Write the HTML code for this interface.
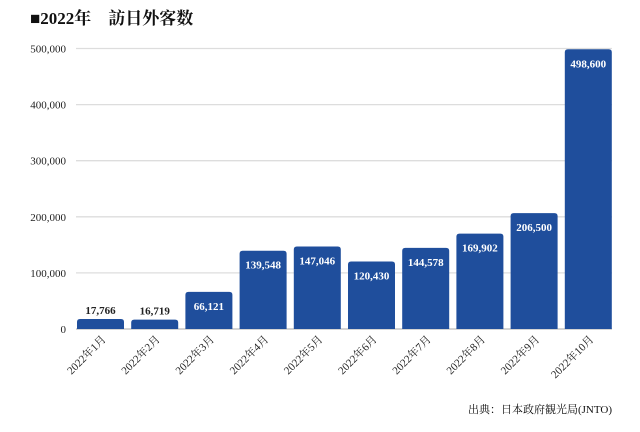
<!DOCTYPE html>
<html><head><meta charset="utf-8">
<style>
body{margin:0;background:#fff;}
svg text{font-family:"Liberation Serif","Noto Serif CJK SC",serif;}
</style></head>
<body>
<svg id="chart" width="640" height="427" viewBox="0 0 640 427" xmlns="http://www.w3.org/2000/svg">
<text x="30" y="24" font-size="17" font-weight="bold" fill="#111">■2022年　訪日外客数</text>
<g id="grid"></g><g id="bars"></g><g id="xlabels"></g>
<text x="612" y="413" font-size="11" text-anchor="end" fill="#111">出典：日本政府観光局(JNTO)</text>
</svg>
<script>
const categories=["2022年1月","2022年2月","2022年3月","2022年4月","2022年5月","2022年6月","2022年7月","2022年8月","2022年9月","2022年10月"];
const values=[17766,16719,66121,139548,147046,120430,144578,169902,206500,498600];
const yTicks=[0,100000,200000,300000,400000,500000];
const NS="http://www.w3.org/2000/svg";
const x0=73.5,band=54.2,bw=47,y0=329,yMax=500000,yTop=48.5;
const y=v=>y0-(v/yMax)*(y0-yTop);
const xb=i=>x0+i*band+3.5;
function mk(t,a,p){const e=document.createElementNS(NS,t);for(const k in a)e.setAttribute(k,a[k]);p.appendChild(e);return e;}
const g=document.getElementById('grid'),b=document.getElementById('bars'),xl=document.getElementById('xlabels');
yTicks.forEach(t=>{
 const l=mk('line',{x1:76,x2:612,y1:y(t),y2:y(t),stroke:t===0?'#bbb':'#ddd','stroke-width':1.3},g);
 
 
 const tx=mk('text',{x:66,y:y(t)+4,'font-size':11,'text-anchor':'end',fill:'#222'},g);
 tx.textContent=t.toLocaleString('en-US');
 
 
});
values.forEach((v,i)=>{
 const x=xb(i),top=y(v),h=y0-top;
 const r=mk('path',{d:`M${x},${y0}V${top+3}Q${x},${top} ${x+3},${top}H${x+bw-3}Q${x+bw},${top} ${x+bw},${top+3}V${y0}Z`,fill:'#1f4e9c'},b);
 
 
 const inside=h>30;
 const t=mk('text',{x:x+bw/2,y:inside?top+18:top-5,'font-size':11,'font-weight':'bold','text-anchor':'middle',fill:inside?'#fff':'#222'},b);
 t.textContent=v.toLocaleString('en-US');
 
 
 const cx=x+bw/2+6,cy=340;
 const lt=mk('text',{x:cx,y:cy,'font-size':11,'text-anchor':'end',fill:'#222',transform:`rotate(-45 ${cx} ${cy})`},xl);
 lt.textContent=categories[i];
 
 
});
</script>
</body></html>
